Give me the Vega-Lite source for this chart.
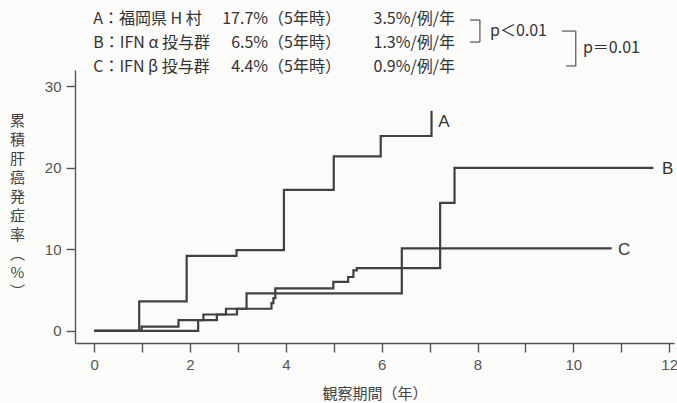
{
  "$schema": "https://vega.github.io/schema/vega-lite/v6.json",
  "width": 599,
  "height": 273,
  "autosize": {"type": "none"},
  "padding": {"left": 75, "top": 70, "right": 3, "bottom": 60},
  "background": "#fbfbf9",
  "config": {
    "view": {"stroke": null},
    "font": "Noto Sans CJK JP",
    "axis": {
      "grid": false,
      "domainColor": "#555555",
      "domainWidth": 1.4,
      "tickColor": "#555555",
      "tickWidth": 1.4,
      "tickSize": 9,
      "labelFont": "Liberation Sans Narrow, Liberation Sans, sans-serif",
      "labelFontSize": 15,
      "labelColor": "#555555",
      "labelFlush": false,
      "titleFont": "Noto Sans CJK JP",
      "titleFontWeight": "normal",
      "titleColor": "#444444"
    }
  },
  "datasets": {
    "curves": [
      {"group": "A", "year": 0, "pct": 0},
      {"group": "A", "year": 0.94, "pct": 3.6},
      {"group": "A", "year": 1.93, "pct": 9.2},
      {"group": "A", "year": 2.97, "pct": 9.9},
      {"group": "A", "year": 3.96, "pct": 17.3},
      {"group": "A", "year": 5.0, "pct": 21.4},
      {"group": "A", "year": 5.98, "pct": 23.9},
      {"group": "A", "year": 7.04, "pct": 27.0},
      {"group": "B", "year": 0, "pct": 0},
      {"group": "B", "year": 0.99, "pct": 0.5},
      {"group": "B", "year": 1.76, "pct": 1.3},
      {"group": "B", "year": 2.28, "pct": 2.0},
      {"group": "B", "year": 2.75, "pct": 2.7},
      {"group": "B", "year": 3.7, "pct": 3.4},
      {"group": "B", "year": 3.74, "pct": 4.0},
      {"group": "B", "year": 3.78, "pct": 5.2},
      {"group": "B", "year": 4.99, "pct": 6.0},
      {"group": "B", "year": 5.3, "pct": 6.6},
      {"group": "B", "year": 5.41, "pct": 7.4},
      {"group": "B", "year": 5.48, "pct": 7.7},
      {"group": "B", "year": 7.22, "pct": 15.7},
      {"group": "B", "year": 7.52, "pct": 20.0},
      {"group": "B", "year": 11.67, "pct": 20.0},
      {"group": "C", "year": 0, "pct": 0},
      {"group": "C", "year": 2.17, "pct": 1.3},
      {"group": "C", "year": 2.56, "pct": 2.0},
      {"group": "C", "year": 2.98, "pct": 2.7},
      {"group": "C", "year": 3.18, "pct": 4.6},
      {"group": "C", "year": 6.42, "pct": 10.1},
      {"group": "C", "year": 10.8, "pct": 10.1}
    ],
    "curveLabels": [
      {"group": "A", "year": 7.18, "pct": 25.6},
      {"group": "B", "year": 11.85, "pct": 19.85},
      {"group": "C", "year": 10.93, "pct": 9.93}
    ],
    "groups": [
      {"group": "A", "site": "A：福岡県 H 村", "five": "17.7%（5年時）", "annual": "3.5%/例/年", "row": 38.25},
      {"group": "B", "site": "B：IFN α 投与群", "five": "6.5%（5年時）", "annual": "1.3%/例/年", "row": 35.31},
      {"group": "C", "site": "C：IFN β 投与群", "five": "4.4%（5年時）", "annual": "0.9%/例/年", "row": 32.37}
    ],
    "brackets": [
      {"pair": "A-B", "x1": 7.84, "x2": 8.05, "y1": 38.13, "y2": 38.13},
      {"pair": "A-B", "x1": 8.05, "x2": 8.05, "y1": 38.13, "y2": 35.43},
      {"pair": "A-B", "x1": 7.84, "x2": 8.05, "y1": 35.43, "y2": 35.43},
      {"pair": "AB-C", "x1": 9.76, "x2": 10.05, "y1": 36.78, "y2": 36.78},
      {"pair": "AB-C", "x1": 10.05, "x2": 10.05, "y1": 36.78, "y2": 32.49},
      {"pair": "AB-C", "x1": 9.85, "x2": 10.05, "y1": 32.49, "y2": 32.49}
    ],
    "tests": [
      {"pair": "A-B", "p": "p＜0.01", "year": 8.26, "pct": 36.78},
      {"pair": "AB-C", "p": "p＝0.01", "year": 10.2, "pct": 34.7}
    ]
  },
  "layer": [
    {
      "data": {"name": "curves"},
      "mark": {"type": "line", "interpolate": "step-after", "color": "#404040", "strokeWidth": 2.2},
      "encoding": {
        "x": {
          "field": "year",
          "type": "quantitative",
          "scale": {"domain": [-0.4, 12.1], "nice": false, "zero": false},
          "axis": {
            "values": [0, 1, 2, 3, 4, 5, 6, 7, 8, 9, 10, 11, 12],
            "labelExpr": "datum.value % 2 === 0 ? datum.label : ''",
            "labelPadding": 5,
            "title": "観察期間（年）",
            "titleFontSize": 15,
            "titlePadding": 14
          }
        },
        "y": {
          "field": "pct",
          "type": "quantitative",
          "scale": {"domain": [-1.5, 32], "nice": false, "zero": false},
          "axis": {
            "values": [0, 10, 20, 30],
            "labelPadding": 5,
            "title": ["累", "積", "肝", "癌", "発", "症", "率", "︵", "%", "︶"],
            "titleAngle": 0,
            "titleAlign": "center",
            "titleBaseline": "middle",
            "titleX": -58,
            "titleY": 50,
            "titleFontSize": 15,
            "titleLineHeight": 19
          }
        },
        "detail": {"field": "group"}
      }
    },
    {
      "data": {"name": "curveLabels"},
      "mark": {"type": "text", "align": "left", "baseline": "middle", "fontSize": 17, "color": "#333333", "font": "Liberation Sans"},
      "encoding": {
        "x": {"field": "year", "type": "quantitative"},
        "y": {"field": "pct", "type": "quantitative"},
        "text": {"field": "group"}
      }
    },
    {
      "data": {"name": "groups"},
      "mark": {"type": "text", "align": "left", "baseline": "middle", "fontSize": 16, "color": "#333333"},
      "encoding": {
        "x": {"datum": -0.02, "type": "quantitative"},
        "y": {"field": "row", "type": "quantitative"},
        "text": {"field": "site"}
      }
    },
    {
      "data": {"name": "groups"},
      "mark": {"type": "text", "align": "right", "baseline": "middle", "fontSize": 16, "color": "#333333"},
      "encoding": {
        "x": {"datum": 5.15, "type": "quantitative"},
        "y": {"field": "row", "type": "quantitative"},
        "text": {"field": "five"}
      }
    },
    {
      "data": {"name": "groups"},
      "mark": {"type": "text", "align": "left", "baseline": "middle", "fontSize": 16, "color": "#333333"},
      "encoding": {
        "x": {"datum": 5.83, "type": "quantitative"},
        "y": {"field": "row", "type": "quantitative"},
        "text": {"field": "annual"}
      }
    },
    {
      "data": {"name": "brackets"},
      "mark": {"type": "rule", "color": "#555555", "strokeWidth": 1.2},
      "encoding": {
        "x": {"field": "x1", "type": "quantitative"},
        "x2": {"field": "x2"},
        "y": {"field": "y1", "type": "quantitative"},
        "y2": {"field": "y2"}
      }
    },
    {
      "data": {"name": "tests"},
      "mark": {"type": "text", "align": "left", "baseline": "middle", "fontSize": 16, "color": "#333333"},
      "encoding": {
        "x": {"field": "year", "type": "quantitative"},
        "y": {"field": "pct", "type": "quantitative"},
        "text": {"field": "p"}
      }
    }
  ]
}
